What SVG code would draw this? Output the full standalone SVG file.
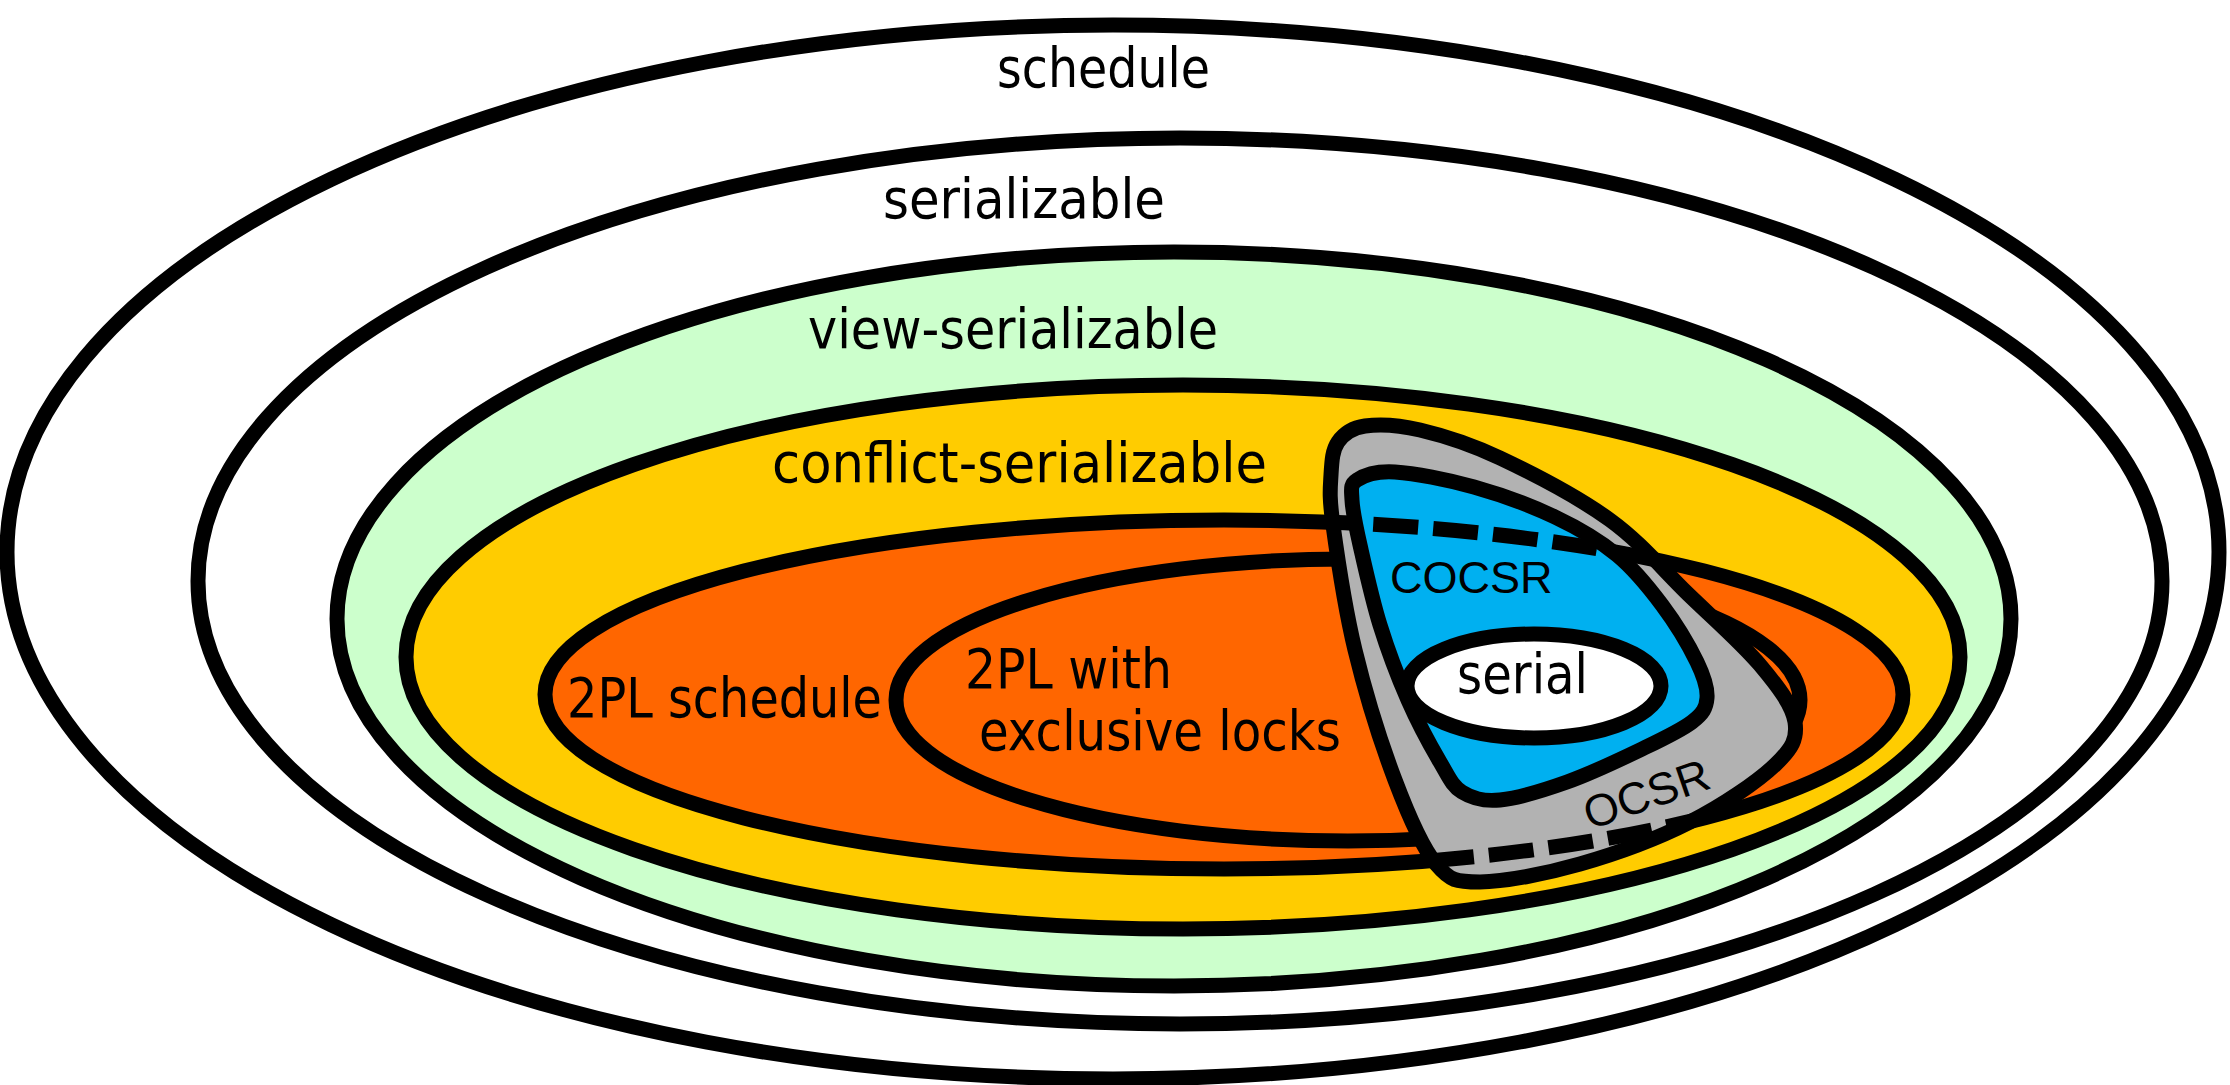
<svg xmlns="http://www.w3.org/2000/svg" width="2230" height="1085" viewBox="0 0 2230 1085">
<style>
.sh{stroke:#000;stroke-width:15;}
.lbl{font-family:"DejaVu Sans","Liberation Sans",sans-serif;font-size:56px;fill:#000;}
.arl{font-family:"Liberation Sans",Arial,sans-serif;font-size:45px;fill:#000;}
.dash{fill:none;stroke:#000;stroke-width:15;stroke-dasharray:45 15;}
</style>
<defs>
<path id="ocsrPath" d="M1338,442 C1343.7,433.8 1351.3,428 1365,426 C1378.7,424 1397.5,424.7 1420,430 C1442.5,435.3 1468.3,443 1500,458 C1531.7,473 1578.7,497.3 1610,520 C1641.3,542.7 1663,569.8 1688,594 C1713,618.2 1742.2,643.7 1760,665 C1777.8,686.3 1792.5,705.3 1795,722 C1797.5,738.7 1792.5,748.3 1775,765 C1757.5,781.7 1722.5,805.5 1690,822 C1657.5,838.5 1615,854 1580,864 C1545,874 1504,882 1480,882 C1456,882 1450.2,881 1436,864 C1421.8,847 1408.5,815.7 1395,780 C1381.5,744.3 1365.3,692.5 1355,650 C1344.7,607.5 1337,554.2 1333,525 C1329,495.8 1330.2,488.8 1331,475 C1331.8,461.2 1332.3,450.2 1338,442 Z"/>
<clipPath id="ocsrClip"><use href="#ocsrPath"/></clipPath>
</defs>
<g id="schedule">
<ellipse class="sh" cx="1113" cy="552" rx="1106" ry="527" fill="#fff"/>
<text class="lbl" x="997" y="87" textLength="213" lengthAdjust="spacingAndGlyphs">schedule</text>
</g>
<g id="serializable">
<ellipse class="sh" cx="1180" cy="581" rx="982" ry="443" fill="#fff"/>
<text class="lbl" x="883" y="218" textLength="282" lengthAdjust="spacingAndGlyphs">serializable</text>
</g>
<g id="view-serializable">
<ellipse class="sh" cx="1174" cy="619" rx="837" ry="367" fill="#CCFFCC"/>
<text class="lbl" x="808" y="348" textLength="410" lengthAdjust="spacingAndGlyphs">view-serializable</text>
</g>
<g id="conflict-serializable">
<ellipse class="sh" cx="1183" cy="657" rx="777" ry="272" fill="#FFCC00"/>
<text class="lbl" x="772" y="482" textLength="495" lengthAdjust="spacingAndGlyphs">conflict-serializable</text>
</g>
<g id="2pl-schedule">
<ellipse class="sh" cx="1224" cy="694.5" rx="679" ry="174.5" fill="#FF6600"/>
<text class="lbl" x="567" y="717" textLength="315" lengthAdjust="spacingAndGlyphs">2PL schedule</text>
</g>
<g id="2pl-exclusive">
<ellipse class="sh" cx="1348" cy="700" rx="452" ry="141" fill="#FF6600"/>
<text class="lbl" x="965" y="688" textLength="207" lengthAdjust="spacingAndGlyphs">2PL with</text>
<text class="lbl" x="979" y="750" textLength="362" lengthAdjust="spacingAndGlyphs">exclusive locks</text>
</g>
<g id="ocsr">
<use href="#ocsrPath" class="sh" fill="#B2B2B2"/>
<text class="arl" transform="translate(1590,830) rotate(-19)">OCSR</text>
</g>
<g id="cocsr">
<path class="sh" fill="#00B0F0" d="M1357,480 C1364.2,475.3 1375.5,470.8 1395,472 C1414.5,473.2 1447.3,479.5 1474,487 C1500.7,494.5 1531.2,505.7 1555,517 C1578.8,528.3 1599.2,540.3 1617,555 C1634.8,569.7 1648.7,587.2 1662,605 C1675.3,622.8 1689.5,646.5 1697,662 C1704.5,677.5 1707.8,688 1707,698 C1706.2,708 1703.2,713.3 1692,722 C1680.8,730.7 1660.8,740 1640,750 C1619.2,760 1590.3,773.7 1567,782 C1543.7,790.3 1517.5,798.3 1500,800 C1482.5,801.7 1472,798.3 1462,792 C1452,785.7 1449,777.3 1440,762 C1431,746.7 1418,722.8 1408,700 C1398,677.2 1388,650.8 1380,625 C1372,599.2 1364.7,565.8 1360,545 C1355.3,524.2 1352.5,510.8 1352,500 C1351.5,489.2 1349.8,484.7 1357,480 Z"/>
<text class="arl" x="1390" y="593">COCSR</text>
</g>
<g id="connectors">
<ellipse class="dash" cx="1224" cy="694.5" rx="679" ry="174.5" clip-path="url(#ocsrClip)"/>
</g>
<g id="serial">
<ellipse class="sh" cx="1534" cy="686" rx="127" ry="52" fill="#fff"/>
<text class="lbl" x="1457" y="693" textLength="131" lengthAdjust="spacingAndGlyphs">serial</text>
</g>
</svg>
